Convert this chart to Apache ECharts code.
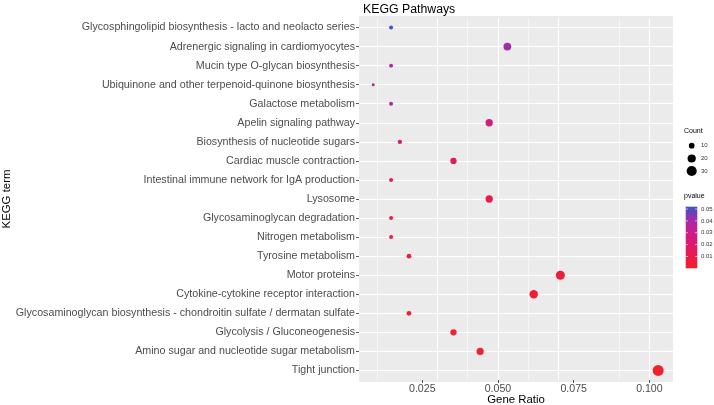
<!DOCTYPE html>
<html>
<head>
<meta charset="utf-8">
<script src="https://cdn.jsdelivr.net/npm/echarts@6/dist/echarts.min.js"></script>
<style>html,body{margin:0;padding:0;background:#fff}#c{width:714px;height:405px}</style>
</head>
<body>
<div id="c"></div>
<script>
// ---- data (top to bottom as shown) ----
var terms = [
  'Glycosphingolipid biosynthesis - lacto and neolacto series',
  'Adrenergic signaling in cardiomyocytes',
  'Mucin type O-glycan biosynthesis',
  'Ubiquinone and other terpenoid-quinone biosynthesis',
  'Galactose metabolism',
  'Apelin signaling pathway',
  'Biosynthesis of nucleotide sugars',
  'Cardiac muscle contraction',
  'Intestinal immune network for IgA production',
  'Lysosome',
  'Glycosaminoglycan degradation',
  'Nitrogen metabolism',
  'Tyrosine metabolism',
  'Motor proteins',
  'Cytokine-cytokine receptor interaction',
  'Glycosaminoglycan biosynthesis - chondroitin sulfate / dermatan sulfate',
  'Glycolysis / Gluconeogenesis',
  'Amino sugar and nucleotide sugar metabolism',
  'Tight junction'
];
var geneRatio = [0.0147,0.0531,0.0147,0.0088,0.0147,0.0471,0.0176,0.0353,0.0147,0.0471,0.0147,0.0147,0.0206,0.0706,0.0618,0.0206,0.0353,0.0441,0.1029];
var counts    = [5,18,5,3,5,16,6,12,5,16,5,5,7,24,21,7,12,15,35];
var pvalues   = [0.052,0.041,0.038,0.039,0.038,0.026,0.023,0.016,0.012,0.009,0.010,0.009,0.005,0.004,0.003,0.003,0.002,0.002,0.0005];
var xTicks = [0.025,0.050,0.075,0.100];
var xMinor = [0.0125,0.0375,0.0625,0.0875];
var countLegend = [10,20,30];
var pLegend = [0.05,0.04,0.03,0.02,0.01];
var pMin = 0, pMax = 0.052;
var colors = ['#F2202A','#EA1A4C','#DD1972','#C81E90','#A02DA8','#3B55C4']; // low -> high

function sizeOf(c){ return 3 + 1.91*(Math.sqrt(c) - 1.73); }

var chart = echarts.init(document.getElementById('c'), null, {renderer:'canvas'});
var data = terms.map(function(t,i){ return [geneRatio[i], i, pvalues[i], counts[i]]; });

// panel geometry
var L = 359, R = 673, T = 16, B = 382;
var gridTop = 18, gridBottom = 380;

// legend graphics
var g = [];
g.push({type:'rect', z:-10, silent:true, shape:{x:L,y:T,width:R-L,height:B-T}, style:{fill:'#EBEBEB'}});
g.push({type:'text', x:(L+R)/2, y:399.5, style:{text:'Gene Ratio', font:'11.4px "Liberation Sans", Arial', fill:'#000', align:'center', verticalAlign:'middle'}});
g.push({type:'text', left:684, top:128, style:{text:'Count', font:'7px "Liberation Sans", Arial', fill:'#000'}});
var cy = [145.7,158.5,171];
countLegend.forEach(function(c,i){
  g.push({type:'circle', shape:{cx:691.7, cy:cy[i], r:sizeOf(c)/2}, style:{fill:'#000'}});
  g.push({type:'text', x:701, y:cy[i], style:{text:String(c), font:'6px "Liberation Sans", Arial', fill:'#333', verticalAlign:'middle'}});
});
g.push({type:'text', left:684, top:193, style:{text:'pvalue', font:'7px "Liberation Sans", Arial', fill:'#000'}});
var barX = 685.7, barW = 11.6, barTop = 206.7, barBot = 268.3;
var stops = colors.map(function(c,i){ return {offset: 1 - i/(colors.length-1), color:c}; }).reverse();
g.push({type:'rect', shape:{x:barX,y:barTop,width:barW,height:barBot-barTop},
  style:{fill:{type:'linear',x:0,y:0,x2:0,y2:1,colorStops:stops}}});
pLegend.forEach(function(p){
  var yy = barBot - (p - pMin)/(pMax - pMin)*(barBot-barTop);
  g.push({type:'line', shape:{x1:barX,y1:yy,x2:barX+2.3,y2:yy}, style:{stroke:'#fff',lineWidth:0.6}});
  g.push({type:'line', shape:{x1:barX+barW-2.3,y1:yy,x2:barX+barW,y2:yy}, style:{stroke:'#fff',lineWidth:0.6}});
  g.push({type:'text', x:701, y:yy, style:{text:p.toFixed(2), font:'6px "Liberation Sans", Arial', fill:'#333', verticalAlign:'middle'}});
});

var gridLines = [];
xTicks.forEach(function(v){ gridLines.push({xAxis:v, lineStyle:{color:'#fff',width:1.1,type:'solid'}}); });
xMinor.forEach(function(v){ gridLines.push({xAxis:v, lineStyle:{color:'#fff',width:0.55,type:'solid'}}); });
terms.forEach(function(t,i){ gridLines.push({yAxis:i, lineStyle:{color:'#fff',width:1.1,type:'solid'}}); });

chart.setOption({
  animation:false,
  backgroundColor:'#fff',
  title:{text:'KEGG Pathways', left:358, top:-1, textStyle:{fontFamily:'"Liberation Sans", Arial', fontSize:12.3, fontWeight:'normal', color:'#000'}},
  grid:{left:L, right:714-R, top:gridTop, bottom:405-gridBottom, show:false, outerBoundsMode:'none', containLabel:false},
  xAxis:{type:'value', min:0.0041, max:0.1078,
    axisLine:{show:false},
    axisTick:{show:true, customValues:xTicks, length:3, lineStyle:{color:'#333',width:0.8}},
    axisLabel:{customValues:xTicks, margin:4, fontFamily:'"Liberation Sans", Arial', fontSize:10.6, color:'#4D4D4D',
      formatter:function(v){ return v.toFixed(3); }},
    splitLine:{show:false}},
  yAxis:{type:'category', data:terms, inverse:true, boundaryGap:true,
    name:'KEGG term', nameLocation:'middle', nameGap:346, nameRotate:90,
    nameTextStyle:{fontFamily:'"Liberation Sans", Arial', fontSize:11.4, color:'#000'},
    axisLine:{show:false},
    axisTick:{show:true, alignWithLabel:true, length:3, lineStyle:{color:'#333',width:0.8}},
    axisLabel:{margin:4, fontFamily:'"Liberation Sans", Arial', fontSize:10.7, color:'#4D4D4D'},
    splitLine:{show:false}},
  visualMap:{type:'continuous', show:false, dimension:2, seriesIndex:0, min:pMin, max:pMax, inRange:{color:colors}},
  series:[
    {type:'scatter', z:5, data:data, symbol:'circle',
      symbolSize:function(d){ return sizeOf(d[3]); },
      itemStyle:{opacity:1}},
    {type:'scatter', z:1, data:[], silent:true,
      markLine:{silent:true, symbol:['none','none'], label:{show:false}, emphasis:{disabled:true}, animation:false, data:gridLines}}
  ],
  graphic:g
});
</script>
</body>
</html>
